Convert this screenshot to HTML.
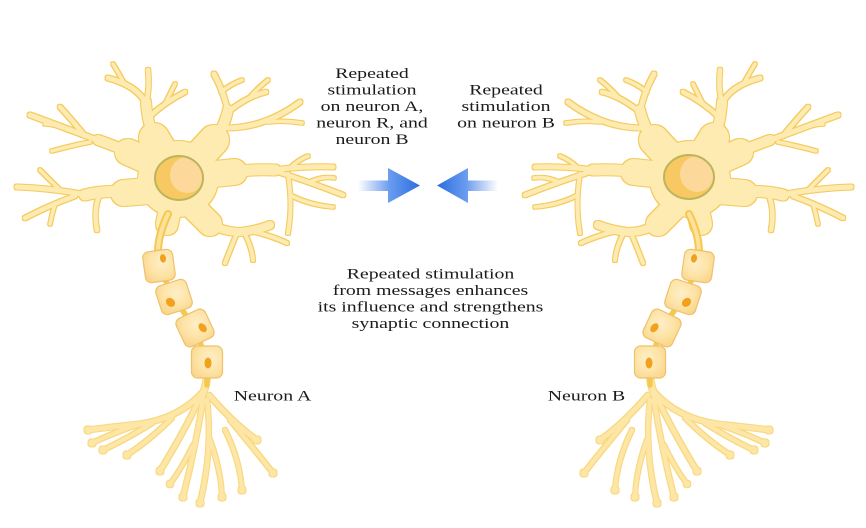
<!DOCTYPE html>
<html>
<head>
<meta charset="utf-8">
<style>
html,body{margin:0;padding:0;background:#fff;}
body{width:866px;height:528px;overflow:hidden;}
svg{display:block;}
text{font-family:"Liberation Serif","Times New Roman",serif;font-size:15px;fill:#1b1b1b;}
</style>
</head>
<body>
<svg width="866" height="528" viewBox="0 0 866 528" xmlns="http://www.w3.org/2000/svg">
<defs>
  <filter id="olS" x="-10%" y="-10%" width="120%" height="120%" color-interpolation-filters="sRGB">
    <feMorphology in="SourceAlpha" operator="dilate" radius="1.2" result="d"/>
    <feFlood flood-color="#f5cb5e"/>
    <feComposite in2="d" operator="in" result="o"/>
    <feMerge><feMergeNode in="o"/><feMergeNode in="SourceGraphic"/></feMerge>
  </filter>
  <filter id="olT" x="-10%" y="-10%" width="120%" height="120%" color-interpolation-filters="sRGB">
    <feMorphology in="SourceAlpha" operator="dilate" radius="0.9" result="d"/>
    <feFlood flood-color="#f8d982"/>
    <feComposite in2="d" operator="in" result="o"/>
    <feMerge><feMergeNode in="o"/><feMergeNode in="SourceGraphic"/></feMerge>
  </filter>
  <radialGradient id="my" cx="60%" cy="40%" r="70%">
    <stop offset="0" stop-color="#feeec8"/>
    <stop offset="0.6" stop-color="#fde3a6"/>
    <stop offset="1" stop-color="#f9d68c"/>
  </radialGradient>
  <linearGradient id="shL" x1="0" x2="1" y1="0" y2="0">
    <stop offset="0" stop-color="#5b8fea" stop-opacity="0"/>
    <stop offset="1" stop-color="#5b8fea" stop-opacity="0.95"/>
  </linearGradient>
  <linearGradient id="shR" x1="1" x2="0" y1="0" y2="0">
    <stop offset="0" stop-color="#5b8fea" stop-opacity="0"/>
    <stop offset="1" stop-color="#5b8fea" stop-opacity="0.95"/>
  </linearGradient>
  <linearGradient id="hdL" x1="0" x2="1" y1="0" y2="0">
    <stop offset="0" stop-color="#6d9ff0"/>
    <stop offset="1" stop-color="#2e6de0"/>
  </linearGradient>
  <linearGradient id="hdR" x1="1" x2="0" y1="0" y2="0">
    <stop offset="0" stop-color="#6d9ff0"/>
    <stop offset="1" stop-color="#2e6de0"/>
  </linearGradient>
  <clipPath id="nucL"><ellipse cx="179" cy="178" rx="24" ry="22"/></clipPath>
  <clipPath id="nucR"><ellipse cx="689" cy="177" rx="25" ry="22"/></clipPath>

  <!-- soma + dendrites (left neuron) -->
  <g id="soma" filter="url(#olS)" stroke="#fdebb2" fill="none" stroke-linecap="round" stroke-linejoin="round">
    <!-- trunks -->
    <path stroke-width="30" d="M172,168 L154,138"/>
    <path stroke-width="10" d="M155,140 Q147,122 146,102"/>
    <path stroke-width="30" d="M190,166 L214,140"/>
    <path stroke-width="10" d="M212,144 Q224,128 228,110"/>
    <path stroke-width="26" d="M160,166 L128,152"/>
    <path stroke-width="10" d="M134,154 Q115,146 98,140"/>
    <path stroke-width="26" d="M160,190 L124,193"/>
    <path stroke-width="11" d="M128,192 Q105,190 85,195"/>
    <path stroke-width="26" d="M196,176 L234,172"/>
    <path stroke-width="11" d="M228,172 Q252,169 275,170"/>
    <path stroke-width="24" d="M186,200 L210,224"/>
    <path stroke-width="8" d="M205,218 Q218,232 240,232 Q258,230 270,225"/>
    <path stroke-width="22" d="M172,200 L167,224"/>
    <!-- T1 tree -->
    <path stroke-width="5" d="M146,104 Q138,86 108,78"/>
    <path stroke-width="4.5" d="M146,104 Q150,88 148,70"/>
    <path stroke-width="4.5" d="M148,118 Q165,102 185,92"/>
    <path stroke-width="3.5" d="M124,83 Q118,72 113,64"/>
    <path stroke-width="3.5" d="M166,102 Q171,92 175,84"/>
    <!-- T2 tree -->
    <path stroke-width="5" d="M228,112 Q224,92 214,74"/>
    <path stroke-width="4.5" d="M228,112 Q248,96 266,92"/>
    <path stroke-width="3.5" d="M221,92 Q231,84 242,80"/>
    <path stroke-width="5" d="M226,128 Q265,128 300,102"/>
    <path stroke-width="3.5" d="M268,122 Q285,120 302,123"/>
    <path stroke-width="3.5" d="M250,97 Q260,86 268,80"/>
    <!-- T3 tree -->
    <path stroke-width="5" d="M100,141 Q65,128 30,115"/>
    <path stroke-width="4.5" d="M85,136 Q72,120 60,107"/>
    <path stroke-width="3.5" d="M68,130 Q56,124 45,124"/>
    <path stroke-width="3.5" d="M90,142 Q70,146 52,151"/>
    <!-- T4 tree -->
    <path stroke-width="5" d="M87,195 Q50,188 17,187"/>
    <path stroke-width="4.5" d="M75,196 Q50,205 25,218"/>
    <path stroke-width="4.5" d="M100,193 Q93,210 97,230"/>
    <path stroke-width="3.5" d="M60,190 Q50,180 40,170"/>
    <path stroke-width="3.5" d="M55,204 Q52,214 50,224"/>
    <!-- T5 tree -->
    <path stroke-width="5" d="M273,170 Q305,166 333,167"/>
    <path stroke-width="4.5" d="M275,171 Q310,182 343,195"/>
    <path stroke-width="3.5" d="M290,168 Q298,160 308,156"/>
    <path stroke-width="4" d="M288,174 Q293,205 288,233"/>
    <path stroke-width="3.5" d="M292,196 Q310,205 333,207"/>
    <path stroke-width="3.5" d="M310,182 Q322,176 334,178"/>
    <!-- T6 tree -->
    <path stroke-width="4" d="M237,233 Q230,250 225,263"/>
    <path stroke-width="4" d="M245,234 Q252,248 253,260"/>
    <path stroke-width="4" d="M255,232 Q272,236 287,243"/>
    <!-- soma core -->
    <ellipse cx="178" cy="179" rx="40" ry="38" fill="#fdebb2" stroke="none"/>
  </g>

  <!-- axon + myelin + terminals (left neuron) -->
  <g id="axon">
    <g filter="url(#olT)" stroke="#fde6a6" fill="none" stroke-linecap="round" stroke-linejoin="round">
      <path stroke-width="6" d="M207,377 Q205,392 200,400"/>
      <path stroke-width="5" d="M203,392 Q180,418 140,424 Q110,427 88,430"/>
      <path stroke-width="4" d="M140,424 Q115,432 92,443"/>
      <path stroke-width="4" d="M152,423 Q125,440 103,450"/>
      <path stroke-width="4" d="M172,418 Q150,440 127,455"/>
      <path stroke-width="4.5" d="M200,398 Q185,430 160,471"/>
      <path stroke-width="4.5" d="M203,400 Q195,450 183,497"/>
      <path stroke-width="3.5" d="M193,445 Q182,468 170,484"/>
      <path stroke-width="4.5" d="M207,400 Q213,450 200,503"/>
      <path stroke-width="4" d="M210,440 Q221,470 222,497"/>
      <path stroke-width="4.5" d="M209,395 Q235,425 257,440"/>
      <path stroke-width="4" d="M230,420 Q255,450 273,473"/>
      <path stroke-width="4" d="M225,430 Q240,460 242,490"/>
      <g fill="#fde6a6" stroke="none">
        <circle cx="88" cy="430" r="3.6"/>
        <circle cx="92" cy="443" r="3.6"/>
        <circle cx="103" cy="450" r="3.6"/>
        <circle cx="127" cy="455" r="3.6"/>
        <circle cx="160" cy="471" r="3.6"/>
        <circle cx="170" cy="484" r="3.2"/>
        <circle cx="183" cy="497" r="3.6"/>
        <circle cx="200" cy="503" r="3.6"/>
        <circle cx="222" cy="497" r="3.6"/>
        <circle cx="242" cy="490" r="3.6"/>
        <circle cx="257" cy="440" r="3.6"/>
        <circle cx="273" cy="473" r="3.6"/>
      </g>
    </g>
    <path d="M168,214 Q158,235 158,252" stroke="#f5c84e" stroke-width="8" fill="none" stroke-linecap="round"/>
    <path d="M168,214 Q158,235 158,252" stroke="#fce29a" stroke-width="4" fill="none" stroke-linecap="round"/>
    <path d="M158,252 L159,266 L173,297 L195,328 L207,362 L207,385" stroke="#f5c84e" stroke-width="5.5" fill="none" stroke-linecap="round" stroke-linejoin="round"/>
    <g transform="translate(159,266) rotate(-8)">
      <rect x="-15" y="-15.5" width="30" height="31" rx="6" fill="url(#my)" stroke="#eec26a" stroke-width="1.2"/>
      <ellipse cx="5" cy="-7" rx="3" ry="4.3" fill="#f2a11e"/>
    </g>
    <g transform="translate(174,297) rotate(-18)">
      <rect x="-16" y="-15" width="32" height="30" rx="6" fill="url(#my)" stroke="#eec26a" stroke-width="1.2"/>
      <ellipse cx="-5" cy="4" rx="4" ry="5" transform="rotate(-30 -5 4)" fill="#f2a11e"/>
    </g>
    <g transform="translate(195,328) rotate(-25)">
      <rect x="-16" y="-15.5" width="32" height="31" rx="6" fill="url(#my)" stroke="#eec26a" stroke-width="1.2"/>
      <ellipse cx="7" cy="3" rx="3.5" ry="5" transform="rotate(-15 7 3)" fill="#f2a11e"/>
    </g>
    <g transform="translate(207,362)">
      <rect x="-15.5" y="-16" width="31" height="32" rx="6" fill="url(#my)" stroke="#eec26a" stroke-width="1.2"/>
      <ellipse cx="1" cy="1" rx="3.5" ry="5.5" fill="#f2a11e"/>
    </g>
  </g>
</defs>

<rect width="866" height="528" fill="#ffffff"/>

<!-- left neuron -->
<use href="#soma"/>
<use href="#axon"/>
<!-- right neuron (mirrored) -->
<use href="#soma" transform="translate(868,0) scale(-1,1)"/>
<use href="#axon" transform="translate(857,0) scale(-1,1)"/>

<!-- nuclei -->
<ellipse cx="179" cy="178" rx="24" ry="22" fill="#f8c862"/>
<g clip-path="url(#nucL)"><ellipse cx="187" cy="175" rx="17" ry="18" fill="#fcd99b"/></g>
<ellipse cx="179" cy="178" rx="24" ry="22" fill="none" stroke="#bdb55a" stroke-width="2"/>

<ellipse cx="689" cy="177" rx="25" ry="22" fill="#f8c862"/>
<g clip-path="url(#nucR)"><ellipse cx="697" cy="174" rx="17" ry="18" fill="#fcd99b"/></g>
<ellipse cx="689" cy="177" rx="25" ry="22" fill="none" stroke="#bdb55a" stroke-width="2"/>

<!-- arrows -->
<rect x="358" y="180.5" width="34" height="10.5" fill="url(#shL)"/>
<polygon points="388,168 420,185.5 388,203" fill="url(#hdL)"/>
<rect x="464" y="180.5" width="34" height="10.5" fill="url(#shR)"/>
<polygon points="468,168 437,185.5 468,203" fill="url(#hdR)"/>

<!-- texts -->
<g text-anchor="middle">
  <text transform="translate(372,78) scale(1.32,1)">Repeated</text>
  <text transform="translate(372,94.5) scale(1.32,1)">stimulation</text>
  <text transform="translate(372,111) scale(1.32,1)">on neuron A,</text>
  <text transform="translate(372,127.5) scale(1.32,1)">neuron R, and</text>
  <text transform="translate(372,144) scale(1.32,1)">neuron B</text>

  <text transform="translate(506,94.5) scale(1.32,1)">Repeated</text>
  <text transform="translate(506,111) scale(1.32,1)">stimulation</text>
  <text transform="translate(506,127.5) scale(1.32,1)">on neuron B</text>

  <text transform="translate(430.5,278.5) scale(1.32,1)">Repeated stimulation</text>
  <text transform="translate(430.5,295) scale(1.32,1)">from messages enhances</text>
  <text transform="translate(430.5,311.5) scale(1.32,1)">its influence and strengthens</text>
  <text transform="translate(430.5,328) scale(1.32,1)">synaptic connection</text>

  <text transform="translate(272.5,400.5) scale(1.32,1)">Neuron A</text>
  <text transform="translate(586.5,400.5) scale(1.32,1)">Neuron B</text>
</g>
</svg>
</body>
</html>
